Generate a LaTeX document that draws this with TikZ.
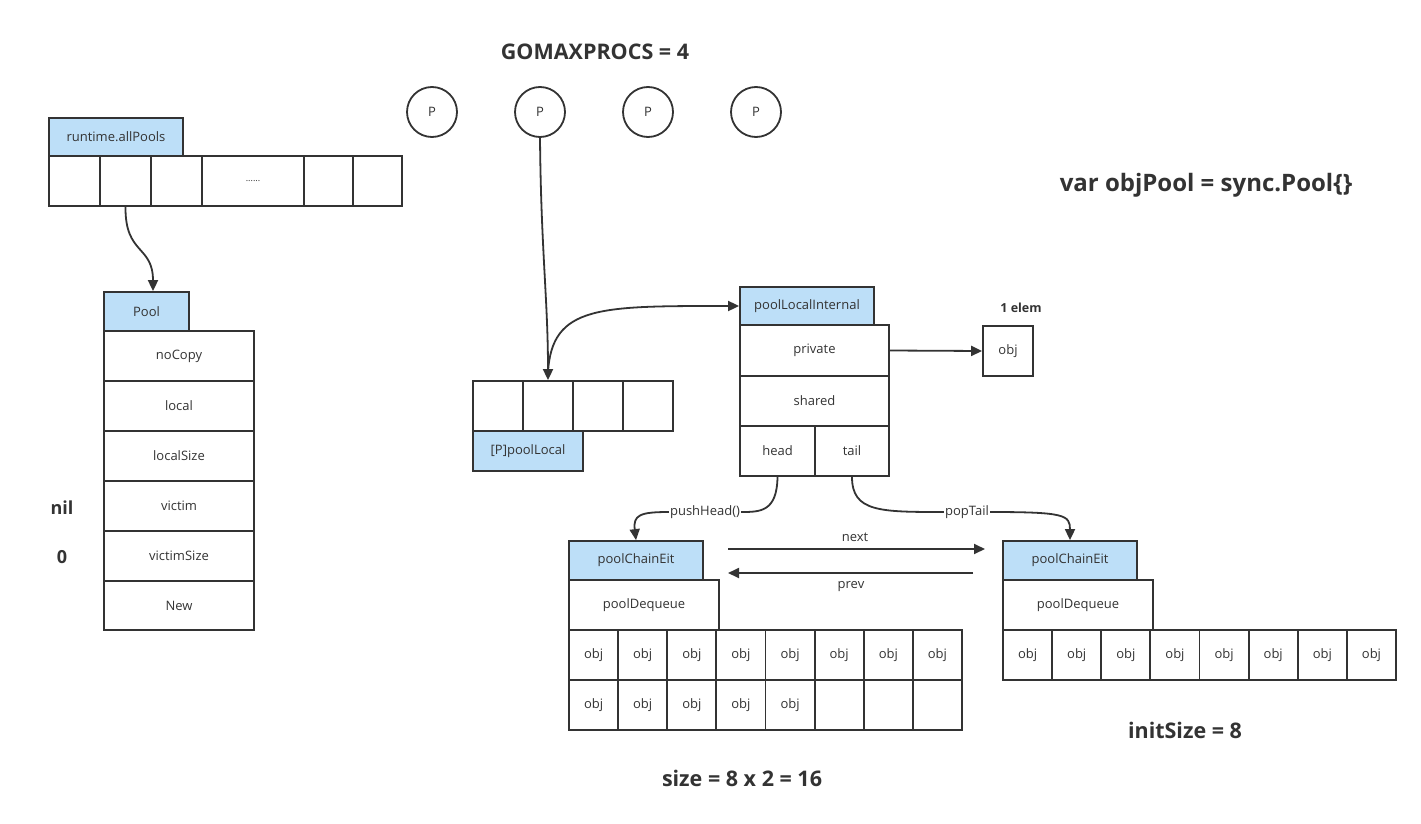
\documentclass[tikz,border=0pt]{standalone}
\usepackage{fontspec}
\setmainfont{Open Sans}
\usetikzlibrary{arrows.meta}
\definecolor{ln}{HTML}{333333}
\definecolor{hd}{HTML}{BDDFF8}
\tikzset{
 box/.style={draw=ln, line width=1.8pt, inner sep=0pt, font=\fontsize{13}{15}\selectfont, text=ln},
 hdr/.style={box, fill=hd},
 arr/.style={draw=ln, line width=1.8pt, -{Triangle[length=11pt,width=10pt]}},
 title/.style={font=\bfseries\fontsize{21.5}{25}\selectfont, text=ln, inner sep=0pt},
 btxt/.style={font=\bfseries\fontsize{18}{22}\selectfont, text=ln, inner sep=0pt},
 lbl/.style={font=\fontsize{13}{15}\selectfont, text=ln, inner sep=1pt},
 pc/.style={box, circle, minimum size=50pt},
}
\newcommand{\bx}[7][box]{\node[#1, minimum width={((#5)-(#3))*1pt}, minimum height={((#6)-(#4))*1pt}] (#2) at ({((#3)+(#5))/2},{((#4)+(#6))/2}) {#7};}
\begin{document}
\begin{tikzpicture}[x=1pt,y=-1pt]
\useasboundingbox (0,0) rectangle (1421,824);
\fill[white] (0,0) rectangle (1421,824);

% runtime.allPools
\bx[hdr]{aph}{49}{118}{183}{156}{runtime.allPools}
\bx{ap1}{49}{156}{100}{206}{}
\bx{ap2}{100}{156}{151}{206}{}
\bx{ap3}{151}{156}{202}{206}{}
\bx[box,font=\fontsize{9}{10}\selectfont]{ap4}{202}{156}{304}{206}{......}
\bx{ap5}{304}{156}{353}{206}{}
\bx{ap6}{353}{156}{402}{206}{}

% Pool
\bx[hdr]{ph}{104}{292}{189}{331}{Pool}
\bx{pr1}{104}{331}{254}{381}{noCopy}
\bx{pr2}{104}{381}{254}{431}{local}
\bx{pr3}{104}{431}{254}{481}{localSize}
\bx{pr4}{104}{481}{254}{531}{victim}
\bx{pr5}{104}{531}{254}{581}{victimSize}
\bx{pr6}{104}{581}{254}{630}{New}
\node[btxt] (nil) at (62,508) {nil};
\node[btxt] (zero) at (62,557) {0};

% GOMAXPROCS
\node[title] (gmp) at (595,52) {GOMAXPROCS = 4};
\node[pc] (p1) at (432,112) {P};
\node[pc] (p2) at (540,112) {P};
\node[pc] (p3) at (648,112) {P};
\node[pc] (p4) at (756,112) {P};

% poolLocal array
\bx{lc1}{473}{381}{523}{431}{}
\bx{lc2}{523}{381}{573}{431}{}
\bx{lc3}{573}{381}{623}{431}{}
\bx{lc4}{623}{381}{673}{431}{}
\bx[hdr]{plh}{473}{431}{583}{471}{[P]poolLocal}

% poolLocalInternal
\bx[hdr]{pli}{740}{287}{874}{325}{poolLocalInternal}
\bx{priv}{740}{325}{889}{376}{private}
\bx{shared}{740}{376}{889}{426}{shared}
\bx{head}{740}{426}{815}{476}{head}
\bx{tail}{815}{426}{889}{476}{tail}
\bx{pobj}{983}{326}{1033}{376}{obj}
\node[font=\bfseries\fontsize{12.5}{14}\selectfont, text=ln] (elem) at (1021,308) {1 elem};

% var objPool
\node[font=\bfseries\fontsize{24}{28}\selectfont, text=ln, inner sep=0pt] (decl) at (1206,185) {var objPool = sync.Pool\{\}};

% chain 1
\bx[hdr]{pce1}{569}{541}{703}{580}{poolChainEit}
\bx{pdq1}{569}{580}{719}{630}{poolDequeue}
\foreach \i in {0,...,7}{
  \bx{a\i}{569+\i*49.125}{630}{569+\i*49.125+49.125}{680}{obj}
}
\foreach \i in {0,...,4}{
  \bx{b\i}{569+\i*49.125}{680}{569+\i*49.125+49.125}{730}{obj}
}
\foreach \i in {5,6,7}{
  \bx{b\i}{569+\i*49.125}{680}{569+\i*49.125+49.125}{730}{}
}
\node[title] (sz) at (742,778) {size = 8 x 2 = 16};

% chain 2
\bx[hdr]{pce2}{1003}{541}{1137}{580}{poolChainEit}
\bx{pdq2}{1003}{580}{1153}{630}{poolDequeue}
\foreach \i in {0,...,7}{
  \bx{c\i}{1003+\i*49.125}{630}{1003+\i*49.125+49.125}{680}{obj}
}
\node[title] (isz) at (1185,730) {initSize = 8};

% connectors
\draw[arr] (ap2.south) .. controls (125,255) and (153,245) .. ([xshift=6.5pt]ph.north);
\draw[arr] (p2.south) .. controls (541,250) and (548,300) .. (lc2.north);
\draw[arr] ([yshift=8pt]lc2.north) .. controls (552,305) and (600,306) .. (pli.west);
\draw[arr] (priv.east) -- (pobj.west);

\node[lbl, fill=white] (push) at (705,512) {pushHead()};
\draw[ln, line width=1.8pt] (head.south) .. controls (777,512) and (760,512) .. (push.east);
\draw[arr] (push.west) .. controls (640,512) and (633,515) .. (pce1.north);

\node[lbl, fill=white] (pop) at (967,512) {popTail};
\draw[ln, line width=1.8pt] (tail.south) .. controls (852,512) and (880,512) .. (pop.west);
\draw[arr] (pop.east) .. controls (1065,512) and (1070,515) .. (pce2.north);

\coordinate (ns) at (728,549);
\coordinate (ne) at (985,549);
\coordinate (ps) at (973,573);
\coordinate (pe) at (728,573);
\draw[arr] (ns) -- (ne);
\draw[arr] (ps) -- (pe);
\node[lbl] (nextl) at (855,537) {next};
\node[lbl] (prevl) at (851,587) {prev};
\end{tikzpicture}
\end{document}
